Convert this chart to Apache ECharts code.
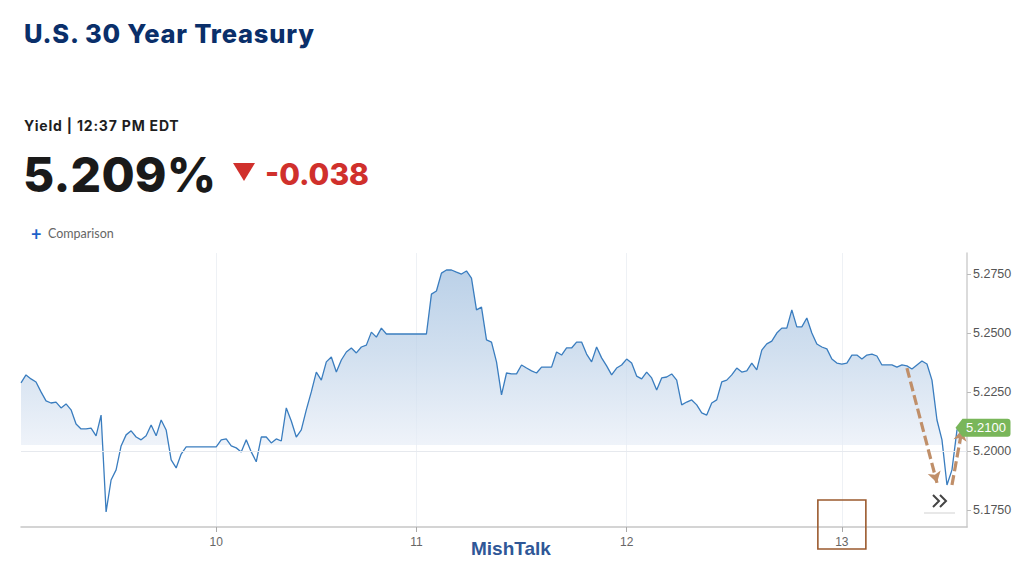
<!DOCTYPE html>
<html><head><meta charset="utf-8">
<script src="https://cdn.jsdelivr.net/npm/echarts@6/dist/echarts.min.js"></script>
<style>
html,body{margin:0;padding:0;background:#fff;width:1024px;height:586px;overflow:hidden;}
#chart{position:absolute;left:0;top:0;width:1024px;height:586px;}
.t{position:absolute;white-space:nowrap;line-height:1;}
</style></head><body>
<div id="chart"></div>
<div class="t" style="left:24px;top:21px;font-family:Inter;font-weight:800;font-size:25.5px;color:#0a2f6a;letter-spacing:0.8px;">U.S. 30 Year Treasury</div>
<div class="t" style="left:24px;top:119px;font-family:Inter;font-weight:700;font-size:14px;color:#1e1e1e;letter-spacing:0.8px;">Yield | 12:37 PM EDT</div>
<div class="t" style="left:23px;top:151px;font-family:Inter;font-weight:800;font-size:48px;color:#1a1a1a;letter-spacing:0.2px;">5.209%</div>
<div class="t" style="left:233px;top:163px;width:0;height:0;border-left:11.5px solid transparent;border-right:11.5px solid transparent;border-top:18px solid #d0302c;"></div>
<div class="t" style="left:265px;top:159px;font-family:Inter;font-weight:800;font-size:30px;color:#d0302c;">-0.038</div>
<div class="t" style="left:31px;top:225px;font-family:Lato;font-weight:700;font-size:18px;color:#1c62c9;">+</div>
<div class="t" style="left:48px;top:228px;font-family:Lato;font-size:12.5px;color:#666;">Comparison</div>
<div class="t" style="left:471px;top:539px;font-family:'Liberation Sans';font-weight:700;font-size:19px;color:#2f5797;">MishTalk</div>
<script>
// ---- data ----
const yieldValues = [
5.2290,5.2324,5.2307,5.2294,5.2252,5.2214,5.2205,5.2209,5.2184,5.2201,
5.2176,5.2116,5.2095,5.2095,5.2099,5.2066,5.2154,5.1744,5.1879,5.1922,
5.2023,5.2070,5.2087,5.2061,5.2049,5.2066,5.2112,5.2066,5.2133,5.2091,
5.1964,5.1930,5.1989,5.2019,5.2019,5.2019,5.2019,5.2019,5.2019,5.2019,
5.2049,5.2053,5.2023,5.2015,5.1998,5.2049,5.1998,5.1956,5.2061,5.2061,
5.2036,5.2053,5.2044,5.2184,5.2129,5.2061,5.2091,5.2176,5.2252,5.2336,
5.2302,5.2379,5.2400,5.2336,5.2387,5.2421,5.2438,5.2417,5.2442,5.2450,
5.2505,5.2484,5.2522,5.2497,5.2497,5.2497,5.2497,5.2497,5.2497,5.2497,
5.2497,5.2497,5.2666,5.2679,5.2755,5.2768,5.2768,5.2759,5.2751,5.2764,
5.2734,5.2599,5.2611,5.2472,5.2463,5.2379,5.2239,5.2332,5.2328,5.2328,
5.2366,5.2353,5.2341,5.2332,5.2357,5.2357,5.2357,5.2421,5.2408,5.2438,
5.2438,5.2463,5.2463,5.2412,5.2379,5.2442,5.2396,5.2362,5.2324,5.2353,
5.2366,5.2391,5.2374,5.2319,5.2307,5.2336,5.2311,5.2260,5.2311,5.2315,
5.2328,5.2302,5.2197,5.2209,5.2218,5.2197,5.2163,5.2154,5.2205,5.2218,
5.2294,5.2302,5.2324,5.2353,5.2336,5.2341,5.2374,5.2345,5.2429,5.2455,
5.2467,5.2501,5.2522,5.2522,5.2599,5.2527,5.2527,5.2565,5.2501,5.2455,
5.2442,5.2434,5.2391,5.2374,5.2370,5.2374,5.2408,5.2408,5.2391,5.2408,
5.2412,5.2404,5.2366,5.2366,5.2366,5.2357,5.2366,5.2362,5.2349,5.2366,
5.2383,5.2370,5.2302,5.2133,5.2049,5.1858,5.1922,5.2091,5.2116
];
const dayLabels = ['10','11','12','13'];
const dayStartIndex = [39, 79, 121, 164];
const yTickValues = [5.175, 5.2, 5.225, 5.25, 5.275];
const lastValue = 5.2100;
const lastValueText = '5.2100';
const fillBaseValue = 5.2027;
const referenceValue = 5.2;
const yMin = 5.168, yMax = 5.284;
// dashed annotation arrows: [startIndex, startValue, endIndex, endValue]
const annotationArrows = [
  [177, 5.2353, 183, 5.1867],
  [186, 5.1858, 188, 5.2092]
];
const highlightedDay = '13';

// ---- build ----
const categories = [];
for (let i = 0; i <= yieldValues.length; i++) categories.push('p' + i);
const lastIdx = yieldValues.length - 1;
const plotValues = yieldValues.slice(0, lastIdx).concat([lastValue]);
const isDay = (idx) => dayStartIndex.indexOf(idx) >= 0;
const labelOf = (idx) => dayLabels[dayStartIndex.indexOf(idx)];

const chart = echarts.init(document.getElementById('chart'), null, {renderer: 'svg'});

const arrowLines = annotationArrows.map(a => [
  {coord: [a[0], a[1]], symbol: 'none'},
  {coord: [a[2], a[3]], symbol: 'arrow', symbolSize: [10, 11],
   lineStyle: {color: '#c08f69', type: [10, 4], width: 3.2}}
]);

const option = {
  animation: false,
  grid: {left: 21, right: 57, top: 253, bottom: 59, containLabel: false},
  xAxis: {
    type: 'category', data: categories, boundaryGap: false,
    axisLine: {show: true, lineStyle: {color: '#c6c6c6', width: 1.5}},
    axisTick: {show: true, interval: (i) => isDay(i), length: 5, lineStyle: {color: '#aaa'}},
    axisLabel: {interval: (i) => isDay(i), formatter: (v, i) => labelOf(i) || '',
      color: '#666', fontSize: 12, fontFamily: 'Liberation Sans', margin: 9},
    splitLine: {show: true, interval: (i) => isDay(i), lineStyle: {color: '#eef1f5', width: 1}}
  },
  yAxis: {
    type: 'value', position: 'right', min: yMin, max: yMax, scale: true,
    axisLine: {show: true, lineStyle: {color: '#cfcfcf', width: 1.5}},
    axisTick: {show: true, customValues: yTickValues, length: 4, lineStyle: {color: '#bbb'}},
    axisLabel: {customValues: yTickValues, formatter: (v) => v.toFixed(4),
      color: '#555', fontSize: 12.5, fontFamily: 'Liberation Sans', margin: 6},
    splitLine: {show: false}
  },
  series: [{
    type: 'line', data: plotValues, showSymbol: false, symbol: 'none',
    lineStyle: {color: '#3a7dbf', width: 1.3},
    areaStyle: {origin: fillBaseValue, color: '#dde7f3'},
    markLine: {
      silent: true, animation: false,
      label: {show: false},
      data: [
        [{coord: [0, referenceValue], symbol: 'none'},
         {coord: [lastIdx + 1, referenceValue], symbol: 'none', lineStyle: {color: '#e6e9ee', type: 'solid', width: 1.2}}]
      ].concat(arrowLines)
    },
    markPoint: {
      silent: true,
      data: [{coord: [lastIdx, lastValue], value: lastValueText}],
      symbol: 'path://M0,9 L7,0 L52,0 Q55,0 55,3 L55,15 Q55,18 52,18 L7,18 Z',
      symbolSize: [55, 18], symbolKeepAspect: false, symbolOffset: [21, 0],
      itemStyle: {color: '#79b65a'},
      label: {show: true, position: 'inside', formatter: lastValueText, color: '#fff',
        fontSize: 13, fontFamily: 'Liberation Sans', offset: [3, 0]}
    }
  }]
};
chart.setOption(option);

// gradient fill from chart scale: darker at top, fading to the base line, clear below
const yTop = chart.convertToPixel({yAxisIndex: 0}, yMax);
const yBase = chart.convertToPixel({yAxisIndex: 0}, fillBaseValue);
const yBottom = chart.convertToPixel({yAxisIndex: 0}, yMin);
const f = (yBase - yTop) / (yBottom - yTop);
const dayX = chart.convertToPixel({xAxisIndex: 0}, 'p' + dayStartIndex[dayLabels.indexOf(highlightedDay)]);
const lastX = chart.convertToPixel({xAxisIndex: 0}, 'p' + lastIdx);
const bx = lastX - 29, by = yBottom - 32;
chart.setOption({
  series: [{areaStyle: {color: {type: 'linear', x: 0, y: yTop, x2: 0, y2: yBottom, global: true,
    colorStops: [
      {offset: 0, color: '#98b9dc'},
      {offset: f * 0.5, color: '#bcd1e8'},
      {offset: f, color: '#e8eef7'},
      {offset: Math.min(1, f + 0.001), color: 'rgba(255,255,255,0)'},
      {offset: 1, color: 'rgba(255,255,255,0)'}
    ]}}}],
  graphic: [
    {type: 'rect', shape: {x: dayX - 24, y: yBottom - 27, width: 48, height: 49},
     style: {fill: 'none', stroke: '#9b5a2e', lineWidth: 1.6}, z: 100},
    {type: 'polyline', shape: {points: [[bx, by], [bx + 6, by + 6], [bx, by + 12]]},
     style: {stroke: '#444', lineWidth: 2, fill: 'none'}, z: 100},
    {type: 'polyline', shape: {points: [[bx + 7, by], [bx + 13, by + 6], [bx + 7, by + 12]]},
     style: {stroke: '#444', lineWidth: 2, fill: 'none'}, z: 100},
    {type: 'line', shape: {x1: lastX - 38, y1: yBottom - 14, x2: lastX - 7, y2: yBottom - 14},
     style: {stroke: '#d8d8d8', lineWidth: 1.2}, z: 100}
  ]
});
</script>
</body></html>
